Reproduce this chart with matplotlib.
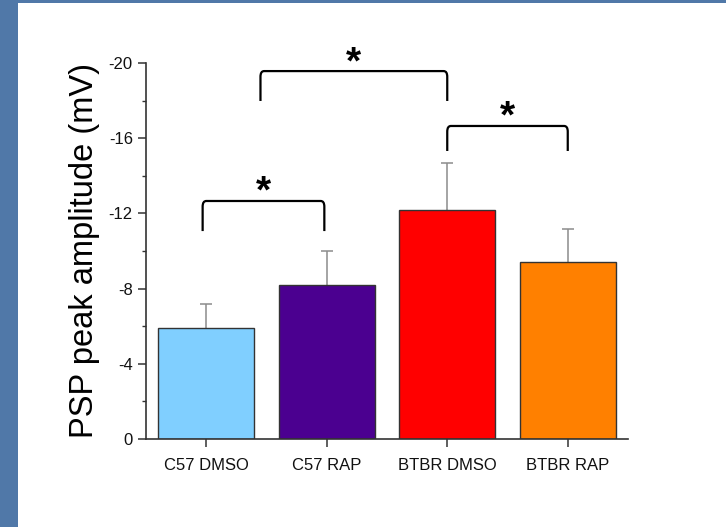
import matplotlib
matplotlib.use("Agg")
import matplotlib.pyplot as plt
from matplotlib.path import Path
from matplotlib.patches import PathPatch, Rectangle
from matplotlib.ticker import MultipleLocator

plt.rcParams['font.family'] = ['Liberation Sans', 'DejaVu Sans']

# data (mV, negative amplitudes)
groups = ['C57 DMSO', 'C57 RAP', 'BTBR DMSO', 'BTBR RAP']
means = [-5.89, -8.19, -12.18, -9.40]
sem = [1.29, 1.80, 2.48, 1.75]
colors = ['#80cfff', '#4b0090', '#ff0000', '#ff8000']

# significance brackets: (x_left, x_right, y_leg, y_top, y_star)
brackets = [
    (0.97, 1.98, -11.06, -12.66, -13.1),
    (1.45, 3.00, -17.98, -19.57, -20.0),
    (3.00, 4.00, -15.32, -16.65, -17.1),
]

fig = plt.figure(figsize=(7.26, 5.27), dpi=100)

# blue frame on the left and top
fig.patches.append(Rectangle((0, 0), 18 / 726, 1, transform=fig.transFigure,
                             facecolor='#5078a8', edgecolor='none', zorder=0))
fig.patches.append(Rectangle((0, 1 - 3 / 527), 1, 3 / 527, transform=fig.transFigure,
                             facecolor='#5078a8', edgecolor='none', zorder=0))

ax = fig.add_axes([146 / 726, 1 - 439 / 527, (628 - 146) / 726, (439 - 63) / 527])

x = list(range(1, len(groups) + 1))
tops = [m - e for m, e in zip(means, sem)]
# one-sided error bars (upwards only)
ax.vlines(x, means, tops, color='#8c8c8c', linewidth=1.1, zorder=1)
ax.plot(x, tops, linestyle='none', marker='_', markersize=8, markeredgewidth=1.1,
        color='#8c8c8c', zorder=1)
ax.bar(x, means, width=0.8, color=colors, edgecolor='#333333', linewidth=1.0, zorder=2)

ax.set_xlim(0.5, 4.5)
ax.set_ylim(0, -20)
ax.set_xticks(x)
ax.set_xticklabels(groups, fontsize=12)
ax.yaxis.set_major_locator(MultipleLocator(4))
ax.yaxis.set_minor_locator(MultipleLocator(2))
ax.set_yticks([0, -4, -8, -12, -16, -20])
ax.set_yticklabels(['0', '-4', '-8', '-12', '-16', '-20'], fontsize=12)
ax.set_ylim(0, -20)

for side in ['top', 'right']:
    ax.spines[side].set_visible(False)
for side in ['left', 'bottom']:
    ax.spines[side].set_linewidth(1.2)
    ax.spines[side].set_color('#333333')
ax.tick_params(axis='both', which='major', direction='out', length=6, width=1.1,
               color='#333333', labelcolor='#111111')
ax.tick_params(axis='y', which='minor', direction='out', length=3, width=1.0, color='#333333')
ax.tick_params(axis='x', pad=8)

ax.set_ylabel('PSP peak amplitude (mV)', fontsize=23.5, labelpad=6)

# brackets with rounded corners
for xl, xr, yl, yt, ys in brackets:
    rx = 0.03
    ry = 0.3
    verts = [(xl, yl), (xl, yt + ry), (xl, yt), (xl + rx, yt),
             (xr - rx, yt), (xr, yt), (xr, yt + ry), (xr, yl)]
    codes = [Path.MOVETO, Path.LINETO, Path.CURVE3, Path.CURVE3,
             Path.LINETO, Path.CURVE3, Path.CURVE3, Path.LINETO]
    ax.add_patch(PathPatch(Path(verts, codes), facecolor='none', edgecolor='black',
                           linewidth=1.6, clip_on=False, zorder=3))
    ax.text((xl + xr) / 2, ys, '*', ha='center', va='center', fontsize=28,
            fontweight='bold', clip_on=False)

fig.savefig('out.png', dpi=100)
